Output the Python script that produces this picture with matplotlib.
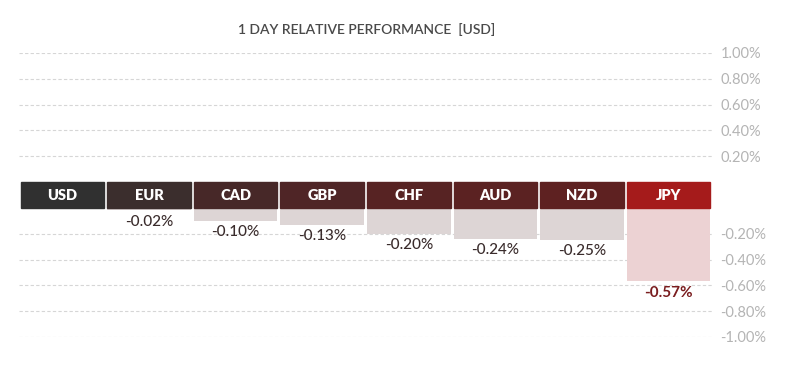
import numpy as np
import matplotlib.pyplot as plt
from matplotlib.patches import Rectangle

# --- DATA ---
currencies = ['USD', 'EUR', 'CAD', 'GBP', 'CHF', 'AUD', 'NZD', 'JPY']
changes = [0.0, -0.02, -0.10, -0.13, -0.20, -0.24, -0.25, -0.57]
tick_values = [1.0, 0.8, 0.6, 0.4, 0.2, -0.2, -0.4, -0.6, -0.8, -1.0]

# --- STYLE ---
header_colors = ['#303030', '#3b2e2d', '#472828', '#4f2526', '#572323',
                 '#5b2222', '#5e2121', '#a51b1b']
bar_colors = ['#ddd5d5'] * 7 + ['#ecd2d3']
label_colors = ['#3a2c2c'] * 7 + ['#7a1d1f']
band = 0.1  # half height of the header band, in % units

plt.rcParams['font.family'] = ['Lato', 'DejaVu Sans']

fig = plt.figure(figsize=(8, 3.76), dpi=100)
ax = fig.add_axes([19 / 800, 1 - 337 / 376, (712 - 19) / 800, (337 - 53) / 376])
ax.set_xlim(-0.5, len(currencies) - 0.5)
ax.set_ylim(-1.0 - band, 1.0 + band)

# shifted positions: positive side above band, negative below
def shift(v):
    return v + band if v > 0 else v - band

# gridlines
for v in tick_values:
    ax.axhline(shift(v), color='#d6d6d6', lw=0.8, dashes=(3, 2), zorder=0)

w = 0.965
for i, (cur, val) in enumerate(zip(currencies, changes)):
    # header box
    ax.add_patch(Rectangle((i - w / 2, -band), w, 2 * band,
                           color=header_colors[i], zorder=3, clip_on=False))
    ax.text(i, 0, cur, color='white', ha='center', va='center',
            fontsize=10.5, fontweight='heavy', zorder=4)
    if val == 0:
        continue
    ax.bar(i, val, width=w, bottom=-band, color=bar_colors[i], zorder=2)
    ax.annotate(f'{val:.2f}%', (i, val - band), xytext=(0, -3),
                textcoords='offset points', ha='center', va='top',
                fontsize=11, color=label_colors[i],
                fontweight='bold' if cur == 'JPY' else 'medium')

ax.yaxis.tick_right()
ax.set_yticks([shift(v) for v in tick_values])
ax.set_yticklabels([f'{v:.2f}%' for v in tick_values])
ax.tick_params(axis='y', length=0, pad=6, labelsize=10.5, labelcolor='#b4b4b4')
ax.set_xticks([])
for s in ax.spines.values():
    s.set_visible(False)

fig.text(367 / 800, 1 - 30 / 376, '1 DAY RELATIVE PERFORMANCE  [USD]',
         ha='center', va='center', fontsize=10, color='#4a4a4a',
         fontweight='semibold')

fig.savefig('out.png', dpi=100)
